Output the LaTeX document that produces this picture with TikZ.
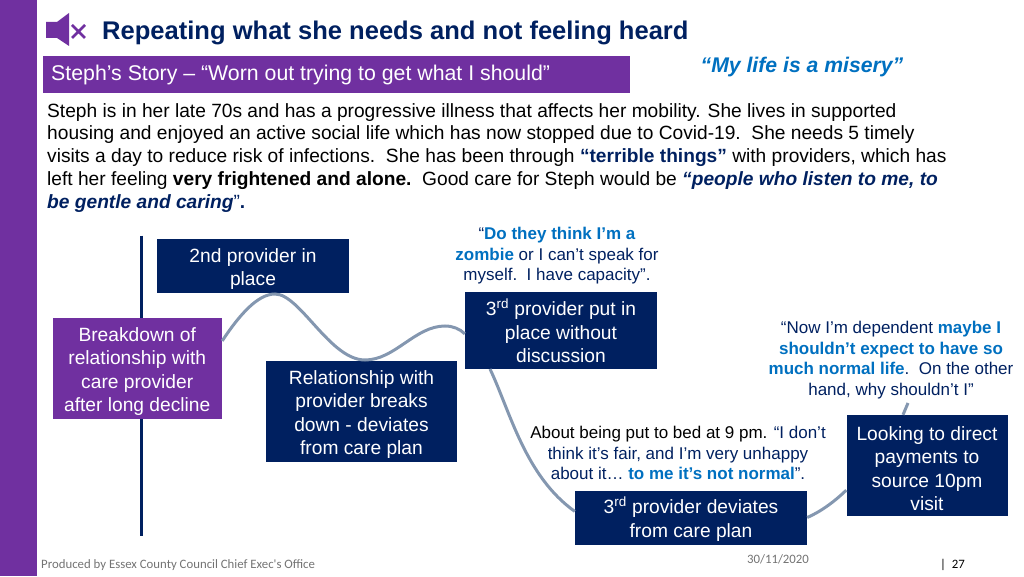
\documentclass[tikz,border=0pt]{standalone}
\usepackage{fontspec}
\setmainfont{Liberation Sans}
\newfontfamily\footfont{Carlito}
\usetikzlibrary{positioning}
\definecolor{navy}{HTML}{002060}
\definecolor{plum}{HTML}{7030A0}
\definecolor{quoteblue}{HTML}{0070C0}
\definecolor{wave}{HTML}{8497B0}
\newcommand{\hl}[1]{\textcolor{quoteblue}{\textbf{#1}}}
\newcommand{\tall}{\rule{0pt}{20pt}}
\tikzstyle{event} = [rectangle, fill=navy, text=white, align=center, inner sep=0pt, font=\fontsize{19.2}{23.3}\selectfont]
\tikzstyle{start} = [event, fill=plum]
\tikzstyle{quote} = [align=center, inner sep=0pt, text=navy, font=\fontsize{17}{20.5}\selectfont]
\tikzstyle{curve} = [wave, line width=3pt]
\tikzstyle{foot} = [inner sep=0pt, text=black!55, font=\footfont\fontsize{12.8}{14}\selectfont]

\begin{document}
\begin{tikzpicture}[x=1pt, y=1pt]
    \useasboundingbox (0,0) rectangle (1024,576);

    % Frame
    \fill [plum] (0,0) rectangle (36.5,576);
    \fill [plum] (46,538) -- (57,538) -- (69,530) -- (69,563) -- (57,554) -- (46,554) -- cycle;
    \draw [plum, line width=2.5pt] (72,538) -- (85,551) (72,551) -- (85,538);

    % Heading
    \node (title) [anchor=base west, inner sep=0pt, text=navy, font=\bfseries\fontsize{25.55}{30}\selectfont] at (102,536) {Repeating what she needs and not feeling heard};
    \node (banner) [rectangle, fill=plum, minimum width=587pt, minimum height=37pt] at (336.5,501.5) {};
    \node (storyline) [inner sep=0pt, anchor=base west, text=white, font=\fontsize{21.3}{25}\selectfont] at (51,495) {Steph’s Story – “Worn out trying to get what I should”};
    \node (misery) [inner sep=0pt, text=quoteblue, font=\bfseries\itshape\fontsize{21.2}{25}\selectfont] at (802,509) {“My life is a misery”};
    \node (story) [anchor=north west, inner sep=0pt, align=left, font=\fontsize{19.17}{22.9}\selectfont] at (47,473) {Steph is in her late 70s and has a progressive illness that affects her mobility. She lives in supported\\
    housing and enjoyed an active social life which has now stopped due to Covid-19.\ \ She needs 5 timely\\
    visits a day to reduce risk of infections.\ \ She has been through \textcolor{navy}{\textbf{“terrible things”}} with providers, which has\\
    left her feeling \textbf{very frightened and alone.}\ \ Good care for Steph would be \textcolor{navy}{\textbf{\textit{“people who listen to me, to}}}\\
    \textcolor{navy}{\textbf{\textit{be gentle and caring}}}\textcolor{navy}{”\textbf{.}}};

    % Timeline
    \node (axistop) [inner sep=0pt] at (141.5,341) {};
    \node (axisend) [inner sep=0pt] at (141.5,39) {};
    \draw [navy, line width=3pt] (axistop) -- (axisend);

    % Nodes
    \node (breakdown) [start, minimum width=169.5pt, minimum height=101pt] at (137.25,207.5) {\tall Breakdown of\\relationship with\\care provider\\after long decline};
    \node (second) [event, minimum width=192pt, minimum height=54pt] at (253,310) {\tall 2nd provider in\\place};
    \node (breaks) [event, minimum width=191pt, minimum height=101pt] at (361.5,164.5) {\tall Relationship with\\provider breaks\\down - deviates\\from care plan};
    \node (third) [event, minimum width=192pt, minimum height=77pt] at (561,245.5) {3\textsuperscript{rd} provider put in\\place without\\discussion};
    \node (deviates) [event, minimum width=232pt, minimum height=54pt] at (691,58.5) {\tall 3\textsuperscript{rd} provider deviates\\from care plan};
    \node (direct) [event, minimum width=161pt, minimum height=101pt] at (927,110.5) {\tall Looking to direct\\payments to\\source 10pm\\visit};

    % Quotes
    \node (zombie) [quote, above=7.5pt of third, xshift=-4pt] {“\hl{Do they think I’m a}\\\hl{zombie} or I can’t speak for\\myself.\ \ I have capacity”.};
    \node (normal) [quote] at (891,216) {“Now I’m dependent \hl{maybe I}\\\hl{shouldn’t expect to have so}\\\hl{much normal life}.\ \ On the other\\hand, why shouldn’t I”};
    \node (bed) [quote] at (678,123) {\textcolor{black}{About being put to bed at 9 pm.} “I don’t\\think it’s fair, and I’m very unhappy\\about it… \hl{to me it’s not normal}”.};

    % Footer
    \node (office) [foot, anchor=west] at (41,11) {Produced by Essex County Council Chief Exec's Office};
    \node (date) [foot] at (778,17) {30/11/2020};
    \node (page) [foot, text=black, anchor=west] at (940,11) {|\ \ 27};

    % Wave
    \coordinate (crest) at (275,282);
    \coordinate (trough) at (365,216);
    \coordinate (rise) at (445,250);
    \coordinate (drop) at (490,207);
    \coordinate (tail) at (908,173);
    \draw [curve] (breakdown.18) .. controls (240,262) and (258,282) .. (crest) .. controls (300,282) and (330,216) .. (trough) .. controls (395,216) and (415,250) .. (rise) .. controls (453,250) and (460,247) .. (third.182);
    \draw [curve] (drop) .. controls (510,165) and (525,100) .. (deviates.177);
    \draw [curve] (deviates.east) .. controls (822,65) and (835,75) .. (direct.197);
    \draw [curve] (direct.north -| 903,0) -- (tail);

\end{tikzpicture}
\end{document}
